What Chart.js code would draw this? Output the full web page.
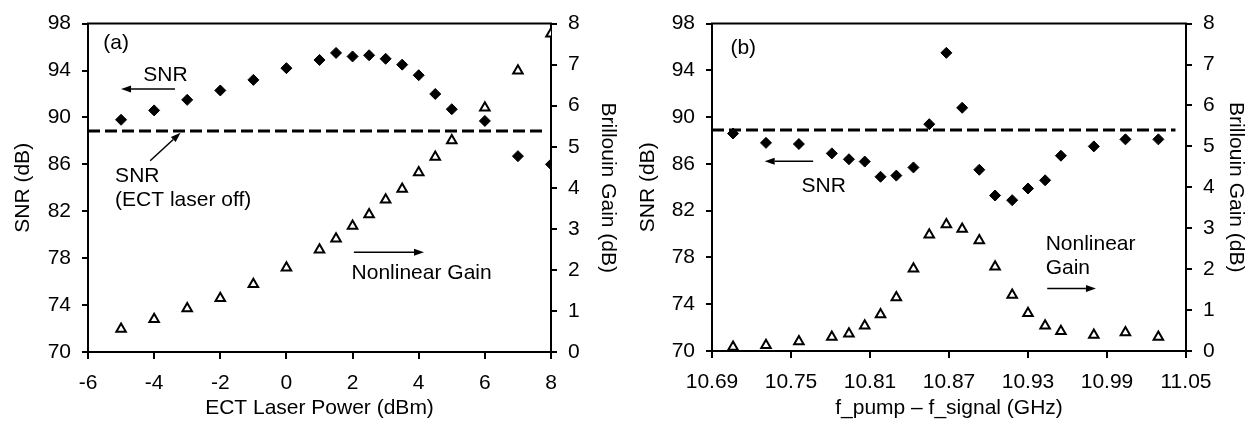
<!DOCTYPE html>
<html>
<head>
<meta charset="utf-8">
<script src="https://cdn.jsdelivr.net/npm/chart.js@4.4.1/dist/chart.umd.min.js"></script>
<style>
  html, body { margin: 0; padding: 0; background: #fff; }
  #wrap { position: relative; width: 1253px; height: 431px; }
  canvas { position: absolute; top: 0; }
  #chartA { left: 0; }
  #chartB { left: 630px; }
</style>
</head>
<body>
<div id="wrap">
  <canvas id="chartA" width="630" height="431"></canvas>
  <canvas id="chartB" width="623" height="431"></canvas>
</div>
<script>
// panel (a): SNR and Brillouin gain vs ECT laser power
const ectPower = [-5, -4, -3, -2, -1, 0, 1, 1.5, 2, 2.5, 3, 3.5, 4, 4.5, 5, 6, 7, 8];
const snrA = [89.8, 90.6, 91.5, 92.3, 93.2, 94.2, 94.9, 95.5, 95.2, 95.3, 95.0, 94.5, 93.6, 92.0, 90.7, 89.7, 86.7, 86.0];
const gainA = [0.56, 0.80, 1.06, 1.31, 1.65, 2.05, 2.49, 2.76, 3.07, 3.35, 3.71, 3.97, 4.37, 4.75, 5.15, 5.95, 6.85, 7.75];
const laserOffX_A = [-6, 7.82];
const laserOffSnrA = 88.85;

// panel (b): SNR and Brillouin gain vs pump-signal detuning
const detuning = [10.706, 10.731, 10.756, 10.781, 10.794, 10.806, 10.818, 10.830, 10.843, 10.855, 10.868,
                  10.880, 10.893, 10.905, 10.918, 10.930, 10.943, 10.955, 10.980, 11.004, 11.029];
const snrB = [88.6, 87.8, 87.7, 86.9, 86.4, 86.2, 84.9, 85.0, 85.7, 89.4, 95.5,
              90.8, 85.5, 83.3, 82.9, 83.9, 84.6, 86.7, 87.5, 88.1, 88.1];
const gainB = [0.10, 0.14, 0.23, 0.34, 0.42, 0.62, 0.89, 1.31, 2.01, 2.84, 3.09,
               2.98, 2.70, 2.06, 1.37, 0.92, 0.62, 0.48, 0.39, 0.45, 0.34];
const laserOffX_B = [10.69, 11.042];
const laserOffSnrB = 88.9;

// tick labels
const snrTicks = [70, 74, 78, 82, 86, 90, 94, 98];
const gainTicks = [0, 1, 2, 3, 4, 5, 6, 7, 8];
const powerTicks = [-6, -4, -2, 0, 2, 4, 6, 8];
const freqTicks = [10.69, 10.75, 10.81, 10.87, 10.93, 10.99, 11.05];

const FONT = '"Liberation Sans", Arial, sans-serif';
const FONT_SIZE = 21;
Chart.defaults.font.family = FONT;
Chart.defaults.font.size = FONT_SIZE;
Chart.defaults.color = '#000';

function drawArrow(ctx, x1, y1, x2, y2) {
    const ang = Math.atan2(y2 - y1, x2 - x1);
    const headLen = 10, headW = 3.5;
    const bx = x2 - headLen * Math.cos(ang);
    const by = y2 - headLen * Math.sin(ang);
    ctx.lineWidth = 1.5;
    ctx.beginPath();
    ctx.moveTo(x1, y1);
    ctx.lineTo(bx, by);
    ctx.stroke();
    ctx.beginPath();
    ctx.moveTo(x2, y2);
    ctx.lineTo(bx + headW * Math.sin(ang), by - headW * Math.cos(ang));
    ctx.lineTo(bx - headW * Math.sin(ang), by + headW * Math.cos(ang));
    ctx.closePath();
    ctx.fill();
}

// top frame line plus text notes and arrows, placed in data coordinates
const frameAndNotes = {
    id: 'frameAndNotes',
    afterDatasetsDraw(chart, args, opts) {
        const { ctx, chartArea: a, scales } = chart;
        const px = v => scales.x.getPixelForValue(v);
        const py = v => scales.y.getPixelForValue(v);
        ctx.save();
        ctx.strokeStyle = '#000';
        ctx.fillStyle = '#000';
        ctx.lineWidth = 2;
        ctx.beginPath();
        ctx.moveTo(a.left - 1, a.top);
        ctx.lineTo(a.right + 1, a.top);
        ctx.stroke();
        ctx.font = FONT_SIZE + 'px ' + FONT;
        ctx.textBaseline = 'middle';
        (opts.labels || []).forEach(l => {
            ctx.textAlign = l.align || 'center';
            ctx.fillText(l.text, px(l.x), py(l.y));
        });
        (opts.arrows || []).forEach(ar => {
            drawArrow(ctx, px(ar.from[0]), py(ar.from[1]), px(ar.to[0]), py(ar.to[1]));
        });
        ctx.restore();
    }
};

function makePanel(id, p) {
    const axisGrid = { drawOnChartArea: false, color: '#000', lineWidth: 2, tickLength: 6 };
    const axisBorder = { color: '#000', width: 2 };
    return new Chart(document.getElementById(id), {
        type: 'scatter',
        data: {
            datasets: [{
                data: p.xs.map((x, i) => ({ x: x, y: p.snr[i] })),
                yAxisID: 'y',
                pointStyle: 'rectRot',
                pointRadius: 5.5,
                backgroundColor: '#000',
                borderColor: '#000',
                borderWidth: 1
            }, {
                data: p.xs.map((x, i) => ({ x: x, y: p.gain[i] })),
                yAxisID: 'y1',
                pointStyle: 'triangle',
                pointRadius: 5.5,
                backgroundColor: '#fff',
                borderColor: '#000',
                borderWidth: 2
            }, {
                data: p.refX.map(x => ({ x: x, y: p.refY })),
                yAxisID: 'y',
                showLine: true,
                pointRadius: 0,
                borderColor: '#000',
                borderWidth: 3,
                borderDash: [12, 5]
            }]
        },
        options: {
            responsive: false,
            animation: false,
            events: [],
            layout: { padding: { top: p.top, left: 0, right: 0, bottom: 0 } },
            plugins: {
                legend: { display: false },
                tooltip: { enabled: false },
                frameAndNotes: { labels: p.labels, arrows: p.arrows }
            },
            scales: {
                x: {
                    type: 'linear',
                    min: p.xTicks[0],
                    max: p.xTicks[p.xTicks.length - 1],
                    afterBuildTicks: s => { s.ticks = p.xTicks.map(v => ({ value: v })); },
                    afterFit: s => { s.height = p.xAxisH; },
                    ticks: { padding: 12, maxRotation: 0, autoSkip: false, callback: p.xFmt },
                    grid: Object.assign({}, axisGrid, { tickLength: 7 }),
                    border: axisBorder,
                    title: { display: true, text: p.xTitle, padding: { top: 0, bottom: 10 } }
                },
                y: {
                    position: 'left',
                    min: 70, max: 98,
                    afterBuildTicks: s => { s.ticks = snrTicks.map(v => ({ value: v })); },
                    afterFit: s => { s.width = p.leftW; },
                    ticks: { padding: 11 },
                    grid: axisGrid,
                    border: axisBorder,
                    title: { display: true, text: 'SNR (dB)', padding: { top: p.leftTitlePad, bottom: 0 } }
                },
                y1: {
                    position: 'right',
                    min: 0, max: 8,
                    afterBuildTicks: s => { s.ticks = gainTicks.map(v => ({ value: v })); },
                    afterFit: s => { s.width = p.rightW; },
                    ticks: { padding: 11 },
                    grid: axisGrid,
                    border: axisBorder,
                    title: { display: true, text: 'Brillouin Gain (dB)', padding: { top: p.rightTitlePad, bottom: 0 } }
                }
            }
        },
        plugins: [frameAndNotes]
    });
}

makePanel('chartA', {
    xs: ectPower, snr: snrA, gain: gainA,
    refX: laserOffX_A, refY: laserOffSnrA,
    xTicks: powerTicks, xFmt: v => String(v),
    xTitle: 'ECT Laser Power (dBm)',
    top: 21, xAxisH: 79, leftW: 88, rightW: 79,
    leftTitlePad: 11, rightTitlePad: 10,
    labels: [
        { text: '(a)', x: -5.54, y: 96.3, align: 'left' },
        { text: 'SNR', x: -3.66, y: 93.6 },
        { text: 'SNR', x: -5.18, y: 85.0, align: 'left' },
        { text: '(ECT laser off)', x: -5.18, y: 82.9, align: 'left' },
        { text: 'Nonlinear Gain', x: 1.97, y: 76.7, align: 'left' }
    ],
    arrows: [
        { from: [-3.37, 92.43], to: [-5.0, 92.43] },
        { from: [-4.12, 86.3], to: [-3.2, 88.7] },
        { from: [2.04, 78.5], to: [4.16, 78.5] }
    ]
});

makePanel('chartB', {
    xs: detuning, snr: snrB, gain: gainB,
    refX: laserOffX_B, refY: laserOffSnrB,
    xTicks: freqTicks, xFmt: v => Number(v).toFixed(2),
    xTitle: 'f_pump \u2013 f_signal (GHz)',
    top: 19, xAxisH: 80, leftW: 82, rightW: 67,
    leftTitlePad: 6, rightTitlePad: 5,
    labels: [
        { text: '(b)', x: 10.704, y: 95.9, align: 'left' },
        { text: 'SNR', x: 10.758, y: 84.1, align: 'left' },
        { text: 'Nonlinear', x: 10.9434, y: 79.1, align: 'left' },
        { text: 'Gain', x: 10.9434, y: 77.05, align: 'left' }
    ],
    arrows: [
        { from: [10.7668, 86.22], to: [10.730, 86.22] },
        { from: [10.9446, 75.34], to: [10.9816, 75.34] }
    ]
});
</script>
</body>
</html>
